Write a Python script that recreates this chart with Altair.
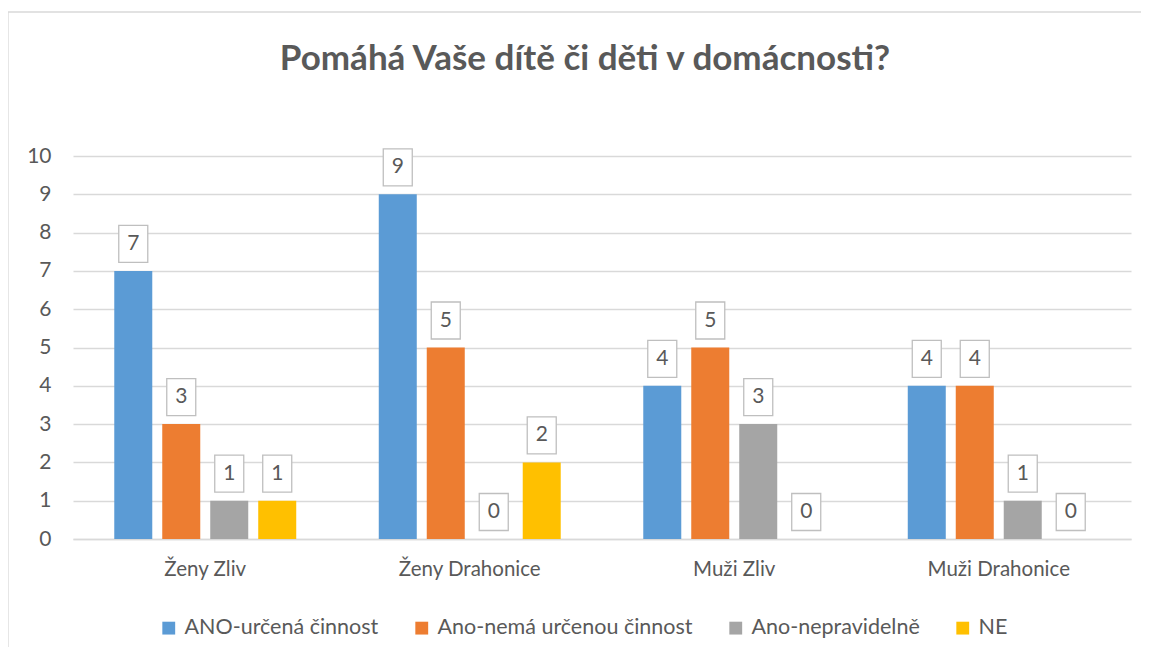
import altair as alt
import pandas as pd

categories = ["Ženy Zliv", "Ženy Drahonice", "Muži Zliv", "Muži Drahonice"]
series = ["ANO-určená činnost", "Ano-nemá určenou činnost", "Ano-nepravidelně", "NE"]
ano_urcena = [7, 9, 4, 4]
ano_nema = [3, 5, 5, 4]
ano_neprav = [1, 0, 3, 1]
ne = [1, 2, 0, 0]
colors = ["#5B9BD5", "#ED7D31", "#A5A5A5", "#FFC000"]
y_ticks = list(range(0, 11))
title_text = "Pomáhá Vaše dítě či děti v domácnosti?"

rows = []
for s, vals in zip(series, [ano_urcena, ano_nema, ano_neprav, ne]):
    for c, v in zip(categories, vals):
        rows.append({"kategorie": c, "odpověď": s, "počet": v})
df = pd.DataFrame(rows)

FONT = "Lato"
TEXT = "#595959"
GRID = "#d9d9d9"
BOX = "M-0.784,-1L0.784,-1L0.784,1L-0.784,1Z"

x = alt.X(
    "kategorie:N",
    sort=categories,
    scale=alt.Scale(paddingInner=0.312, paddingOuter=0.156),
    axis=alt.Axis(
        title=None, labelAngle=0, labelFontSize=20.5, labelColor=TEXT, labelFont=FONT,
        labelPadding=20, ticks=False, domainColor=GRID, domainWidth=1.3,
    ),
)
xo = alt.XOffset("odpověď:N", sort=series, scale=alt.Scale(paddingInner=0.208, paddingOuter=0))
y = alt.Y(
    "počet:Q",
    scale=alt.Scale(domain=[0, 10], nice=False),
    axis=alt.Axis(
        title=None, values=y_ticks, domain=False, ticks=False, labelFontSize=21,
        labelColor=TEXT, labelFont=FONT, labelPadding=22, gridColor=GRID, gridWidth=1.3,
    ),
)
color = alt.Color(
    "odpověď:N",
    sort=series,
    scale=alt.Scale(domain=series, range=colors),
    legend=alt.Legend(
        title=None, orient="none", legendX=85, legendY=461, direction="horizontal",
        columns=4, symbolType="square", symbolSize=165, symbolStrokeWidth=0,
        labelFontSize=21.5, labelColor=TEXT, labelFont=FONT, columnPadding=32,
        labelOffset=5, padding=0, labelLimit=0,
    ),
)

bars = alt.Chart(df).mark_bar().encode(x=x, xOffset=xo, y=y, color=color)
boxes = alt.Chart(df).mark_point(
    shape=BOX, size=1369, filled=True, fill="white", stroke="#bfbfbf",
    strokeWidth=1.3, opacity=1, yOffset=-27,
).encode(x=x, xOffset=xo, y=y)
labels = alt.Chart(df).mark_text(
    fontSize=21, color=TEXT, font=FONT, dy=-27, baseline="middle", align="center",
).encode(x=x, xOffset=xo, y=y, text="počet:Q")

frame_df = pd.DataFrame({"a": [0]})
frame_top = alt.Chart(frame_df).mark_rule(color=GRID, strokeWidth=1.3).encode(
    x=alt.value(-65), x2=alt.value(1080), y=alt.value(-144)
)
frame_left = alt.Chart(frame_df).mark_rule(color=GRID, strokeWidth=1.3).encode(
    x=alt.value(-65), y=alt.value(-144), y2=alt.value(500)
)

chart = (
    alt.layer(frame_top, frame_left, bars, boxes, labels)
    .properties(
        width=1058,
        height=383,
        autosize=alt.AutoSizeParams(type="none"),
        padding={"left": 65, "top": 148, "right": 10, "bottom": 108},
        title=alt.TitleParams(
            title_text, fontSize=35, font=FONT, fontWeight="bold", color=TEXT,
            anchor="middle", offset=0, dx=-17, dy=66,
        ),
        background="white",
    )
    .configure_view(stroke=None)
)

chart.save("out.html", embed_options={"renderer": "svg", "actions": False})
